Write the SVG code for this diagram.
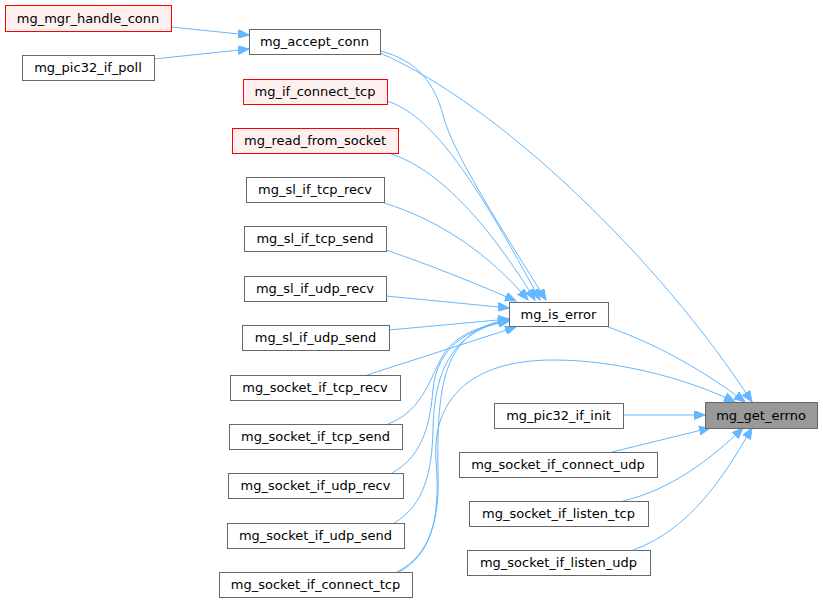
<svg xmlns="http://www.w3.org/2000/svg" width="823" height="603" viewBox="0 0 823 603">
<style>
.n rect{fill:#ffffff;stroke:#666666;stroke-width:1}
.r rect{fill:#fff0f0;stroke:#ff0000;stroke-width:1}
.g rect{fill:#999999;stroke:#666666;stroke-width:1}
text{font-family:"DejaVu Sans",sans-serif;font-size:13px;fill:#000000;text-anchor:middle}
.e path{fill:none;stroke:#63b8ff;stroke-width:1;marker-end:url(#ah)}
</style>
<defs>
<marker id="ah" markerUnits="userSpaceOnUse" markerWidth="12" markerHeight="9" refX="11" refY="4.5" orient="auto">
<path d="M0,0 L11,4.5 L0,9 z" fill="#63b8ff" stroke="#63b8ff" stroke-width="1"/>
</marker>
</defs>
<rect width="823" height="603" fill="#ffffff"/>
<g id="edges" class="e">
<path d="M171,27 L249,35"/>
<path d="M154,59 L249,49"/>
<path d="M380,51 C418,60 435,85 443,115 C452,148 480,195 546,300"/>
<path d="M380,53 C500,105 660,260 752,402"/>
<path d="M387,101 C430,115 470,170 540,300"/>
<path d="M388,153 C430,165 480,210 535,300"/>
<path d="M384,203 C440,220 490,255 528,300"/>
<path d="M386,250 C430,265 480,285 516,301"/>
<path d="M386,296 L509,308"/>
<path d="M389,330 L509,319"/>
<path d="M367,375 L516,327"/>
<path d="M388,424 C425,410 430,375 445,352 C460,332 485,325 509,321"/>
<path d="M392,473 C425,455 430,420 433,390 C437,345 470,328 509,321"/>
<path d="M394,523 C425,505 432,470 433,430 C434,360 460,330 509,320"/>
<path d="M397,572 C430,555 440,520 438,470 C436,370 450,330 509,319"/>
<path d="M399,572 C435,553 440,510 436,460 C432,400 470,360 553,360 C620,360 690,380 735,402"/>
<path d="M608,327 C660,345 710,375 745,402"/>
<path d="M623,415 L705,415"/>
<path d="M612,452 L710,428"/>
<path d="M623,501 C670,490 710,460 743,428"/>
<path d="M633,550 C690,530 725,475 752,428"/>
</g>
<g id="mg_mgr_handle_conn" class="r"><rect x="5.5" y="5.5" width="166" height="26"/><text x="88" y="22.5">mg_mgr_handle_conn</text></g>
<g id="mg_pic32_if_poll" class="n"><rect x="22.5" y="55.5" width="132" height="25"/><text x="88" y="72">mg_pic32_if_poll</text></g>
<g id="mg_accept_conn" class="n"><rect x="249.5" y="29.5" width="131" height="25"/><text x="314.5" y="46">mg_accept_conn</text></g>
<g id="mg_if_connect_tcp" class="r"><rect x="243.5" y="79.5" width="144" height="25"/><text x="315" y="96">mg_if_connect_tcp</text></g>
<g id="mg_read_from_socket" class="r"><rect x="232.5" y="128.5" width="166" height="25"/><text x="315" y="145">mg_read_from_socket</text></g>
<g id="mg_sl_if_tcp_recv" class="n"><rect x="246.5" y="177.5" width="138" height="25"/><text x="315" y="194">mg_sl_if_tcp_recv</text></g>
<g id="mg_sl_if_tcp_send" class="n"><rect x="244.5" y="226.5" width="142" height="25"/><text x="315" y="243">mg_sl_if_tcp_send</text></g>
<g id="mg_sl_if_udp_recv" class="n"><rect x="244.5" y="276.5" width="142" height="25"/><text x="315" y="293">mg_sl_if_udp_recv</text></g>
<g id="mg_sl_if_udp_send" class="n"><rect x="242.5" y="325.5" width="147" height="25"/><text x="315.5" y="342">mg_sl_if_udp_send</text></g>
<g id="mg_socket_if_tcp_recv" class="n"><rect x="230.5" y="375.5" width="170" height="25"/><text x="315" y="392">mg_socket_if_tcp_recv</text></g>
<g id="mg_socket_if_tcp_send" class="n"><rect x="229.5" y="424.5" width="173" height="25"/><text x="315.5" y="441">mg_socket_if_tcp_send</text></g>
<g id="mg_socket_if_udp_recv" class="n"><rect x="228.5" y="473.5" width="175" height="25"/><text x="315.5" y="490">mg_socket_if_udp_recv</text></g>
<g id="mg_socket_if_udp_send" class="n"><rect x="227.5" y="523.5" width="177" height="25"/><text x="315.5" y="540">mg_socket_if_udp_send</text></g>
<g id="mg_socket_if_connect_tcp" class="n"><rect x="219.5" y="572.5" width="193" height="25"/><text x="315.5" y="589">mg_socket_if_connect_tcp</text></g>
<g id="mg_is_error" class="n"><rect x="509.5" y="302.5" width="99" height="24"/><text x="558.5" y="318.5">mg_is_error</text></g>
<g id="mg_pic32_if_init" class="n"><rect x="494.5" y="403.5" width="129" height="25"/><text x="558.5" y="420">mg_pic32_if_init</text></g>
<g id="mg_socket_if_connect_udp" class="n"><rect x="459.5" y="452.5" width="198" height="25"/><text x="558" y="469">mg_socket_if_connect_udp</text></g>
<g id="mg_socket_if_listen_tcp" class="n"><rect x="469.5" y="501.5" width="179" height="25"/><text x="558.5" y="518">mg_socket_if_listen_tcp</text></g>
<g id="mg_socket_if_listen_udp" class="n"><rect x="467.5" y="550.5" width="183" height="25"/><text x="558.5" y="567">mg_socket_if_listen_udp</text></g>
<g id="mg_get_errno" class="g"><rect x="705.5" y="402.5" width="112" height="26"/><text x="761" y="419.5">mg_get_errno</text></g>
</svg>
